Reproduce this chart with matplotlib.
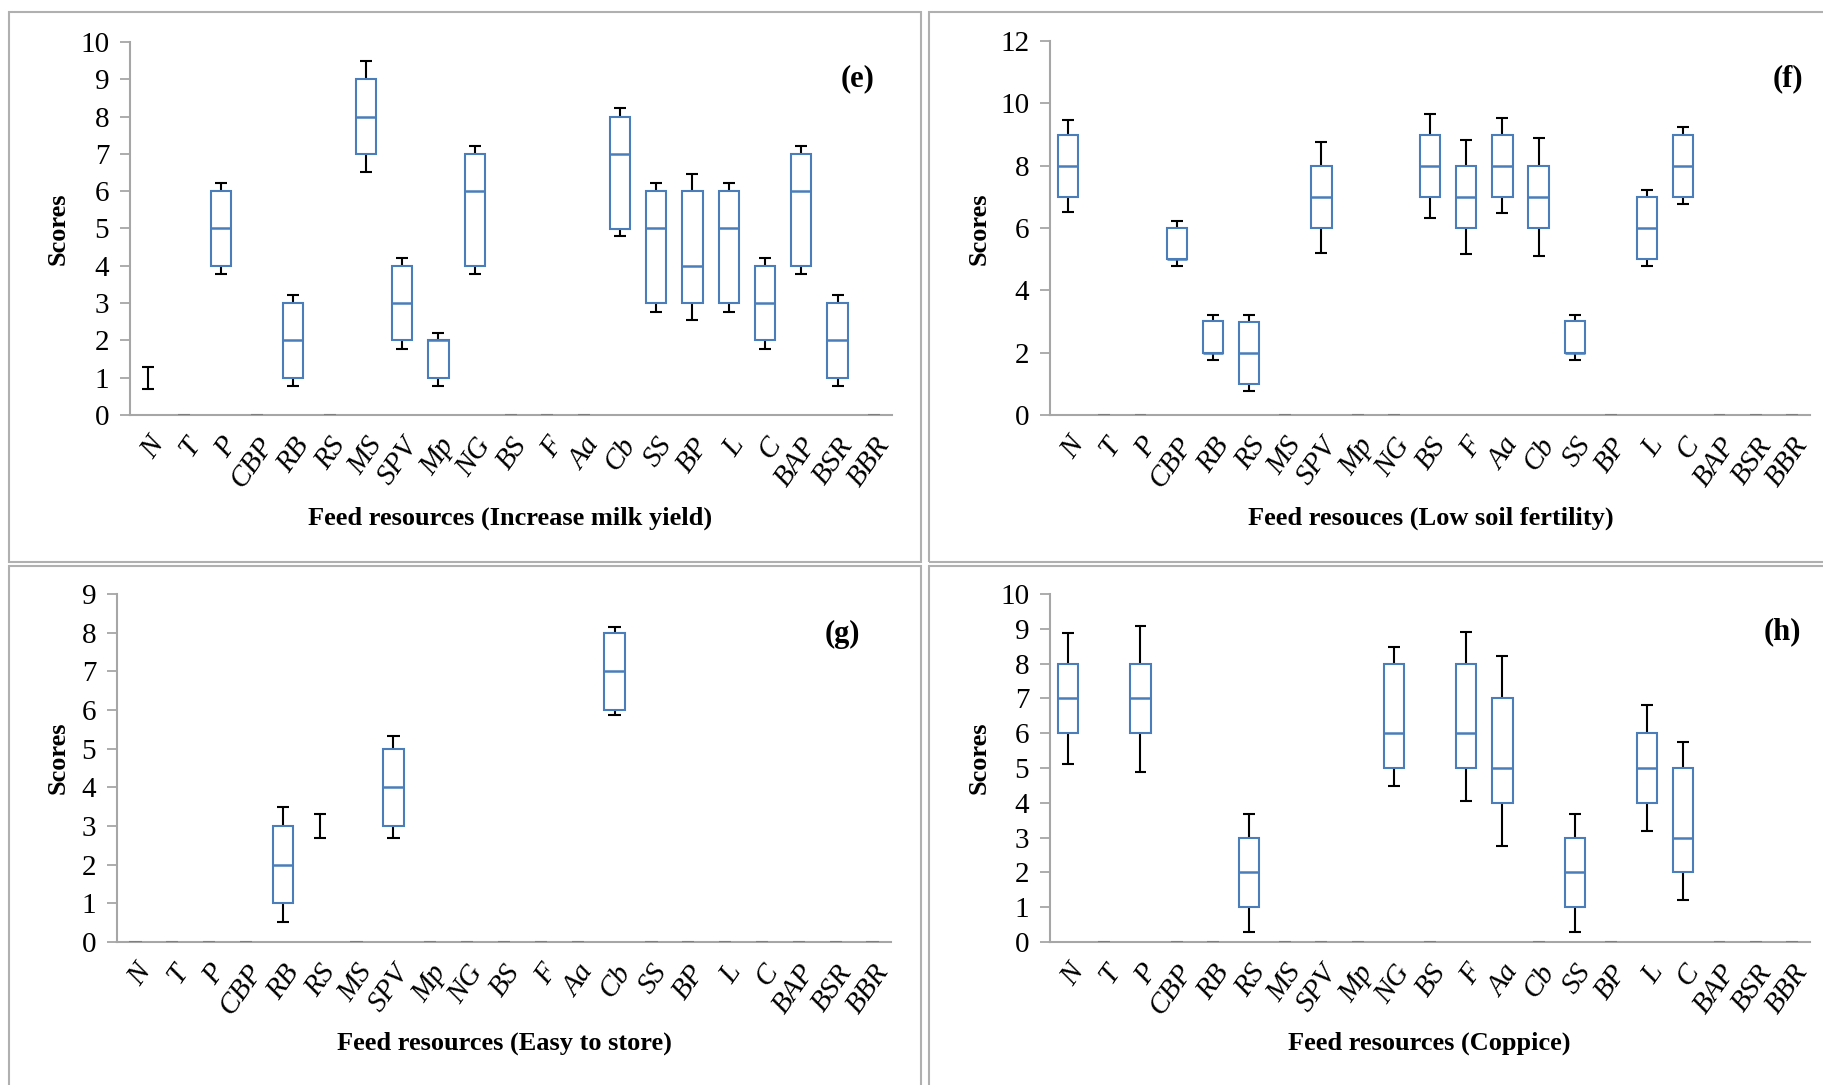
import matplotlib
matplotlib.use("Agg")
import matplotlib.pyplot as plt
from matplotlib.patches import Rectangle

plt.rcParams['font.family'] = ['Liberation Serif', 'DejaVu Serif']

# Feed resource categories (same order on every panel)
categories = ['N', 'T', 'P', 'CBP', 'RB', 'RS', 'MS', 'SPV', 'Mp', 'NG', 'BS',
              'F', 'Aa', 'Cb', 'SS', 'BP', 'L', 'C', 'BAP', 'BSR', 'BBR']

# (e) Increase milk yield
e_q1  = [1, 0, 4, 0, 1, 0, 7, 2, 1, 4, 0, 0, 0, 5, 3, 3, 3, 2, 4, 1, 0]
e_med = [1, 0, 5, 0, 2, 0, 8, 3, 2, 6, 0, 0, 0, 7, 5, 4, 5, 3, 6, 2, 0]
e_q3  = [1, 0, 6, 0, 3, 0, 9, 4, 2, 7, 0, 0, 0, 8, 6, 6, 6, 4, 7, 3, 0]
e_lo  = [0.69, 0, 3.77, 0, 0.78, 0, 6.51, 1.77, 0.78, 3.77, 0, 0, 0, 4.79, 2.77, 2.56, 2.77, 1.77, 3.77, 0.78, 0]
e_hi  = [1.30, 0, 6.22, 0, 3.22, 0, 9.49, 4.22, 2.21, 7.22, 0, 0, 0, 8.24, 6.22, 6.45, 6.22, 4.22, 7.22, 3.22, 0]

# (f) Low soil fertility
f_q1  = [7, 0, 0, 5, 2, 1, 0, 6, 0, 0, 7, 6, 7, 6, 2, 0, 5, 7, 0, 0, 0]
f_med = [8, 0, 0, 5, 2, 2, 0, 7, 0, 0, 8, 7, 8, 7, 2, 0, 6, 8, 0, 0, 0]
f_q3  = [9, 0, 0, 6, 3, 3, 0, 8, 0, 0, 9, 8, 9, 8, 3, 0, 7, 9, 0, 0, 0]
f_lo  = [6.5, 0, 0, 4.78, 1.78, 0.77, 0, 5.21, 0, 0, 6.33, 5.18, 6.47, 5.11, 1.78, 0, 4.78, 6.77, 0, 0, 0]
f_hi  = [9.48, 0, 0, 6.22, 3.22, 3.22, 0, 8.77, 0, 0, 9.66, 8.82, 9.53, 8.89, 3.22, 0, 7.23, 9.23, 0, 0, 0]

# (g) Easy to store
g_q1  = [0, 0, 0, 0, 1, 3, 0, 3, 0, 0, 0, 0, 0, 6, 0, 0, 0, 0, 0, 0, 0]
g_med = [0, 0, 0, 0, 2, 3, 0, 4, 0, 0, 0, 0, 0, 7, 0, 0, 0, 0, 0, 0, 0]
g_q3  = [0, 0, 0, 0, 3, 3, 0, 5, 0, 0, 0, 0, 0, 8, 0, 0, 0, 0, 0, 0, 0]
g_lo  = [0, 0, 0, 0, 0.51, 2.70, 0, 2.69, 0, 0, 0, 0, 0, 5.88, 0, 0, 0, 0, 0, 0, 0]
g_hi  = [0, 0, 0, 0, 3.49, 3.30, 0, 5.33, 0, 0, 0, 0, 0, 8.14, 0, 0, 0, 0, 0, 0, 0]

# (h) Coppice
h_q1  = [6, 0, 6, 0, 0, 1, 0, 0, 0, 5, 0, 5, 4, 0, 1, 0, 4, 2, 0, 0, 0]
h_med = [7, 0, 7, 0, 0, 2, 0, 0, 0, 6, 0, 6, 5, 0, 2, 0, 5, 3, 0, 0, 0]
h_q3  = [8, 0, 8, 0, 0, 3, 0, 0, 0, 8, 0, 8, 7, 0, 3, 0, 6, 5, 0, 0, 0]
h_lo  = [5.12, 0, 4.88, 0, 0, 0.28, 0, 0, 0, 4.49, 0, 4.05, 2.75, 0, 0.30, 0, 3.19, 1.22, 0, 0, 0]
h_hi  = [8.88, 0, 9.09, 0, 0, 3.69, 0, 0, 0, 8.48, 0, 8.92, 8.22, 0, 3.67, 0, 6.80, 5.74, 0, 0, 0]

W, H = 1824, 1085
BLUE = '#4a7ebb'
GRAY = '#a6a6a6'


def px(x, y):
    # pixel position (from top-left) -> figure fraction
    return x / W, 1 - y / H


def draw_panel(ax, q1, med, q3, lo, hi, ymax, ystep):
    x = list(range(len(categories)))
    box_w, cap_w = 0.56, 0.33
    for i in x:
        if hi[i] == 0:
            # empty category: zero-length error bar cap on the axis
            ax.hlines(0, i - cap_w / 2, i + cap_w / 2, color='#7f7f7f', lw=1.5, zorder=3)
            continue
        ax.vlines(i, q3[i], hi[i], color='black', lw=1.5, zorder=2)
        ax.vlines(i, lo[i], q1[i], color='black', lw=1.5, zorder=2)
        ax.hlines([lo[i], hi[i]], i - cap_w / 2, i + cap_w / 2, color='black', lw=1.5, zorder=2)
        if q3[i] > q1[i]:
            ax.bar(i, q3[i] - q1[i], bottom=q1[i], width=box_w, facecolor='white',
                   edgecolor=BLUE, lw=1.5, zorder=3)
            ax.hlines(med[i], i - box_w / 2, i + box_w / 2, color=BLUE, lw=1.8, zorder=4)

    ax.set_xlim(-0.5, len(categories) - 0.5)
    ax.set_ylim(0, ymax)
    ax.set_yticks(range(0, ymax + 1, ystep))
    ax.set_xticks(x)
    ax.set_xticklabels(categories, rotation=55, ha='right', va='top',
                       rotation_mode='anchor', fontstyle='italic', fontsize=21)
    ax.tick_params(axis='x', length=0, pad=13)
    ax.tick_params(axis='y', direction='out', length=7, width=1.3, color=GRAY,
                   labelsize=21, pad=8)
    for s in ['top', 'right']:
        ax.spines[s].set_visible(False)
    for s in ['left', 'bottom']:
        ax.spines[s].set_color(GRAY)
        ax.spines[s].set_linewidth(1.5)


fig = plt.figure(figsize=(W / 100, H / 100), dpi=100)

# panel frames
for (x0, y0, x1, y1) in [(9, 12, 921, 562), (929, 12, 1835, 562),
                         (9, 566, 921, 1095), (929, 566, 1835, 1095)]:
    fx, fy = px(x0, y1)
    fig.patches.append(Rectangle((fx, fy), (x1 - x0) / W, (y1 - y0) / H, fill=False,
                                 edgecolor='#b0b0b0', lw=1.5, transform=fig.transFigure))

ax_e = fig.add_axes([130 / W, 1 - 415 / H, 762 / W, 373 / H])
ax_f = fig.add_axes([1050 / W, 1 - 415 / H, 760 / W, 374 / H])
ax_g = fig.add_axes([117 / W, 1 - 942 / H, 774 / W, 348 / H])
ax_h = fig.add_axes([1050 / W, 1 - 942 / H, 760 / W, 348 / H])

draw_panel(ax_e, e_q1, e_med, e_q3, e_lo, e_hi, 10, 1)
draw_panel(ax_f, f_q1, f_med, f_q3, f_lo, f_hi, 12, 2)
draw_panel(ax_g, g_q1, g_med, g_q3, g_lo, g_hi, 9, 1)
draw_panel(ax_h, h_q1, h_med, h_q3, h_lo, h_hi, 10, 1)

# axis titles and panel tags
xlabels = [('Feed resources (Increase milk yield)', 510, 518),
           ('Feed resouces (Low soil fertility)', 1431, 518),
           ('Feed resources (Easy to store)', 504, 1043),
           ('Feed resources (Coppice)', 1429, 1043)]
for txt, x, y in xlabels:
    fig.text(*px(x, y), txt, ha='center', va='center', fontsize=19, fontweight='bold')

for x, y in [(58, 229), (979, 229), (58, 758), (979, 758)]:
    fig.text(*px(x, y), 'Scores', ha='center', va='center', rotation=90,
             fontsize=19, fontweight='bold')

for tag, x, y in [('(e)', 858, 79), ('(f)', 1788, 79), ('(g)', 842, 634), ('(h)', 1782, 632)]:
    fig.text(*px(x, y), tag, ha='center', va='center', fontsize=22, fontweight='bold')

plt.savefig('out.png', dpi=100)
